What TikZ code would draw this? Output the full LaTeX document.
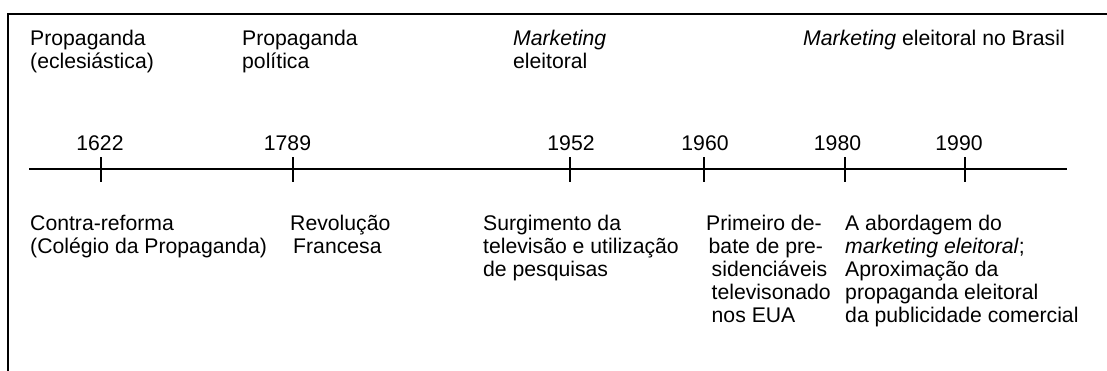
\documentclass[tikz,border=0pt]{standalone}
\usepackage{fontspec}
\setmainfont{Liberation Sans}
\newcommand\tlst{\rule{0pt}{17pt}}
\begin{document}
\begin{tikzpicture}[x=1pt,y=-1pt,
  lbl/.style={anchor=north west, inner sep=0pt, align=left, font=\fontsize{21.2}{23}\selectfont},
  yr/.style={anchor=base, inner sep=0pt, font=\fontsize{21.2}{23}\selectfont},
  ln/.style={line width=1.8pt}]
\useasboundingbox (0,0) rectangle (1107,370);
% frame
\coordinate (fb) at (8,372);
\coordinate (fc) at (8,14);
\coordinate (fr) at (1109,14);
\draw[ln, line join=miter] (fb) -- (fc) -- (fr);
% top labels (baseline 45)
\node[lbl] (p1) at (30,28) {\tlst Propaganda\\(eclesiástica)};
\node[lbl] (p2) at (242,28) {\tlst Propaganda\\política};
\node[lbl] (p3) at (513,28) {\tlst\textit{Marketing}\\eleitoral};
\node[lbl] (p4) at (803,28) {\tlst\textit{Marketing} eleitoral no Brasil};
% axis
\coordinate (axL) at (29,169);
\coordinate (axR) at (1067,169);
\draw[ln] (axL) -- (axR);
% ticks and years
\foreach \nm/\tx/\lx in {1622/101/100, 1789/293/287.5, 1952/570/571, 1960/704/705, 1980/845/837.5, 1990/965/959}{
  \coordinate (a\nm) at (\tx,157);
  \coordinate (b\nm) at (\tx,182);
  \draw[ln] (a\nm) -- (b\nm);
  \node[yr] (y\nm) at (\lx,150) {\nm};
}
% bottom labels (baseline 230)
\node[lbl] (e1) at (30,213) {\tlst Contra-reforma\\(Colégio da Propaganda)};
\node[lbl] (e2) at (290,213) {\tlst Revolução\\\hspace{3pt}Francesa};
\node[lbl] (e3) at (483,213) {\tlst Surgimento da\\televisão e utilização\\de pesquisas};
\node[lbl] (e4) at (706,213) {\tlst Primeiro de-\\\hspace{2.5pt}bate de pre-\\\hspace{5.5pt}sidenciáveis\\\hspace{5.5pt}televisonado\\\hspace{5.5pt}nos EUA};
\node[lbl] (e5) at (845,213) {\tlst A abordagem do\\\textit{marketing eleitoral};\\Aproximação da\\propaganda eleitoral\\da publicidade comercial};
\end{tikzpicture}
\end{document}
